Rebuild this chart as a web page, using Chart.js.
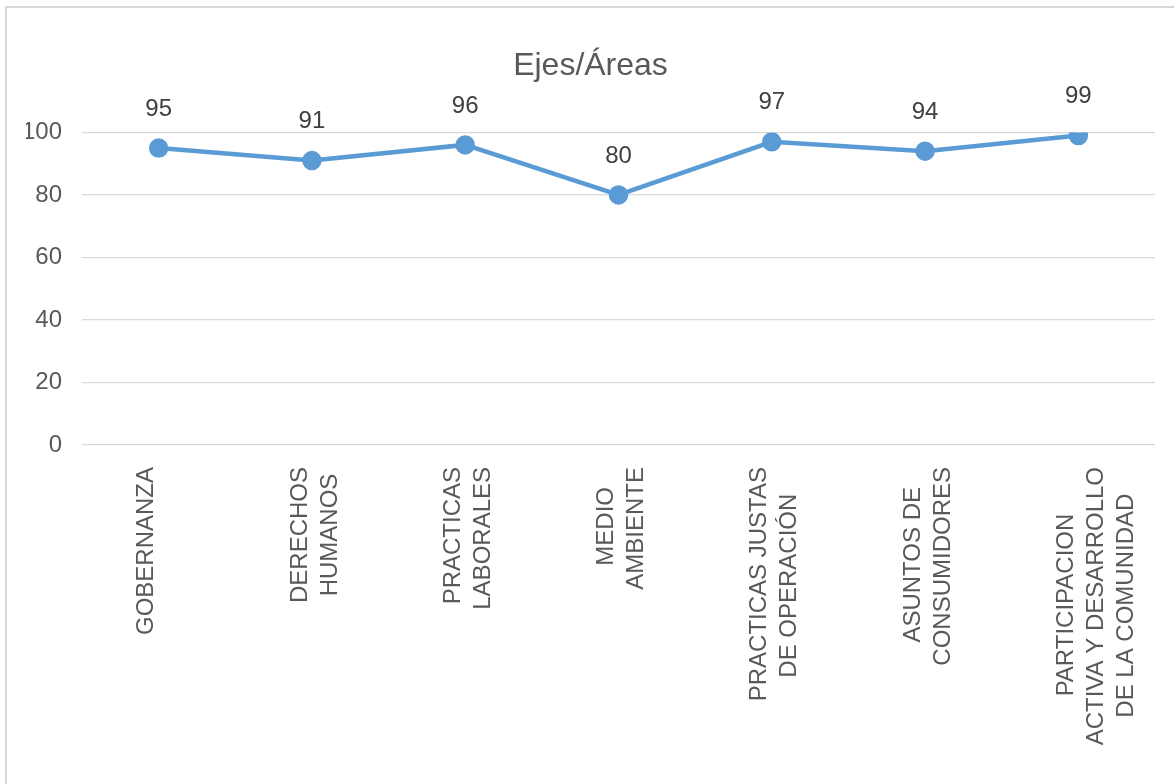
<!DOCTYPE html>
<html>
<head>
<meta charset="utf-8">
<script src="https://cdn.jsdelivr.net/npm/chart.js@4.4.1/dist/chart.umd.min.js"></script>
<style>
  html, body { margin: 0; padding: 0; background: #fff; overflow: hidden; }
  #frame { position: absolute; left: 5px; top: 6px; width: 1200px; height: 820px; border: 2px solid #d9d9d9; }
  #wrap { position: absolute; left: 0; top: 0; width: 1174px; height: 784px; }
</style>
</head>
<body>
<div id="frame"></div>
<div id="wrap"><canvas id="myLineChart"></canvas></div>
<script>
const categories = [
  ['GOBERNANZA'],
  ['DERECHOS', 'HUMANOS'],
  ['PRACTICAS', 'LABORALES'],
  ['MEDIO', 'AMBIENTE'],
  ['PRACTICAS JUSTAS', 'DE OPERACIÓN'],
  ['ASUNTOS DE', 'CONSUMIDORES'],
  ['PARTICIPACION', 'ACTIVA Y DESARROLLO', 'DE LA COMUNIDAD']
];
const values = [95, 91, 96, 80, 97, 94, 99];
const yTicks = [0, 20, 40, 60, 80, 100];

const sans = "'Liberation Sans', Arial, sans-serif";
const xFont = '24px ' + sans;

// pad shorter lines with trailing spaces so the lines look centred to each other
const measureCtx = document.createElement('canvas').getContext('2d');
measureCtx.font = xFont;
function centreLines(lines) {
  if (lines.length < 2) return lines;
  const space = measureCtx.measureText(' ').width;
  const widths = lines.map(l => measureCtx.measureText(l).width);
  const widest = Math.max(...widths);
  return lines.map((l, i) => l + ' '.repeat(Math.round((widest - widths[i]) / 2 / space)));
}

// draws the value above each point
const valueLabels = {
  id: 'valueLabels',
  afterDatasetsDraw(chart) {
    const ctx = chart.ctx;
    const meta = chart.getDatasetMeta(0);
    ctx.save();
    ctx.font = '24px ' + sans;
    ctx.fillStyle = '#404040';
    ctx.textAlign = 'center';
    ctx.textBaseline = 'middle';
    meta.data.forEach((pt, i) => {
      ctx.fillText(String(values[i]), pt.x, pt.y - 39);
    });
    ctx.restore();
  }
};

const ctx = document.getElementById('myLineChart').getContext('2d');

const myLineChart = new Chart(ctx, {
  type: 'line',
  data: {
    labels: categories,
    datasets: [{
      label: 'Ejes/Áreas',
      data: values,
      borderColor: '#5b9bd5',
      backgroundColor: '#5b9bd5',
      borderWidth: 4.5,
      pointRadius: 7.5,
      pointHoverRadius: 7.5,
      tension: 0,
      fill: false
    }]
  },
  options: {
    responsive: true,
    maintainAspectRatio: false,
    animation: false,
    layout: { padding: { left: 26, right: 19, top: 0, bottom: 0 } },
    plugins: {
      legend: { display: false },
      tooltip: { enabled: false },
      title: {
        display: true,
        text: 'Ejes/Áreas',
        color: '#595959',
        font: { family: sans, size: 32, weight: 'normal' },
        padding: { top: 47, bottom: 47 }
      }
    },
    scales: {
      x: {
        offset: true,
        grid: { display: false, drawTicks: false },
        border: { display: false },
        ticks: {
          autoSkip: false,
          minRotation: 90,
          maxRotation: 90,
          padding: 22,
          labelOffset: -12,
          color: '#595959',
          font: { family: sans, size: 24, lineHeight: 1.25 },
          callback(value, i) { return centreLines(categories[i]); }
        },
        afterFit(scale) {
          scale.height = 339;
          scale.paddingLeft = 0;
          scale.paddingRight = 0;
        }
      },
      y: {
        min: 0,
        max: 100,
        grid: { color: '#d9d9d9', lineWidth: 1.3, drawTicks: false },
        border: { display: false },
        afterBuildTicks(scale) { scale.ticks = yTicks.map(v => ({ value: v })); },
        afterFit(scale) { scale.width = 56; },
        ticks: {
          padding: 20,
          color: '#595959',
          font: { family: sans, size: 24 }
        }
      }
    }
  },
  plugins: [valueLabels]
});
</script>
</body>
</html>
